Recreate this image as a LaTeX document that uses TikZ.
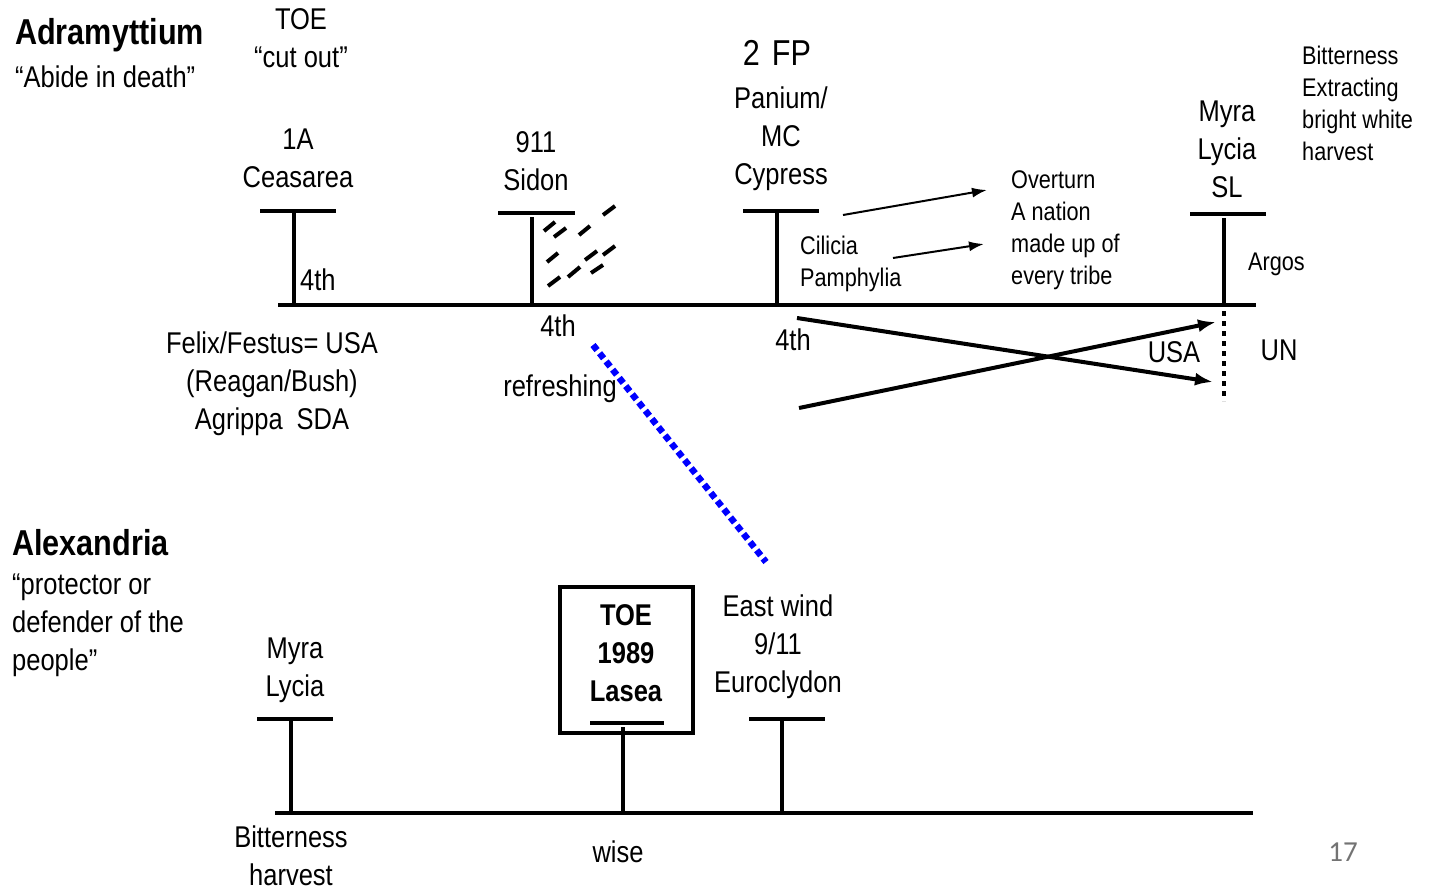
\documentclass[tikz,border=0pt]{standalone}
\usepackage{fontspec}
\setmainfont{Liberation Sans}[FakeStretch=0.85]
\newfontfamily\pagefont{Carlito}
\usetikzlibrary{arrows.meta}
\tikzset{
  big/.style={font={\fontsize{30}{38}\selectfont}, inner sep=0pt, align=center},
  bigl/.style={font={\fontsize{30}{38}\selectfont}, inner sep=0pt, align=left, anchor=west},
  small/.style={font={\fontsize{25.5}{32}\selectfont}, inner sep=0pt, align=left, anchor=west},
  head/.style={font={\bfseries\fontsize{36}{42}\selectfont}, inner sep=0pt, anchor=west},
  tl/.style={line width=4.5pt},
  tick/.style={line width=4pt},
  thinarrow/.style={line width=2pt, -{Latex[length=15pt,width=10pt]}},
  thickarrow/.style={line width=4pt, -{Latex[length=18pt,width=13pt]}},
  slash/.style={line width=4pt},
  bluedots/.style={blue, line width=6.5pt, dash pattern=on 6.5pt off 4pt},
}
\begin{document}
\begin{tikzpicture}[x=1pt,y=-1pt]
\useasboundingbox (0,0) rectangle (1437,889);

% ---------- headings ----------
\node[head] (adr) at (15,35) {Adramyttium};
\node[bigl] (abide) at (15,77) {“Abide in death”};
\node[big] (toe) at (301,38) {TOE\\“cut out”};

% ---------- top timeline ----------
\coordinate (t0) at (278,305);
\coordinate (t1) at (1256,305);
\draw[tl] (t0) -- (t1);

% Ceasarea tick
\coordinate (cb1) at (260,211); \coordinate (cb2) at (336,211);
\coordinate (cv) at (294,211); \coordinate (cvb) at (294,305);
\draw[tick] (cb1) -- (cb2);
\draw[tick] (cv) -- (cvb);
\node[big] (ceas) at (298,158) {1A\\Ceasarea};
\node[bigl] (c4) at (300,280) {4th};

% Sidon tick
\coordinate (sb1) at (498,213); \coordinate (sb2) at (575,213);
\coordinate (sv) at (532,217); \coordinate (svb) at (532,305);
\draw[tick] (sb1) -- (sb2);
\draw[tick] (sv) -- (svb);
\node[big] (sidon) at (536,161) {911\\Sidon};
\node[big] (s4) at (558,326) {4th};
\node[big] (refr) at (560,389) {refreshing};

% dashes near Sidon
\draw[slash] (603,215) -- (615,206);
\draw[slash] (544,231) -- (555,222);
\draw[slash] (554,237) -- (566,228);
\draw[slash] (579,235) -- (590,226);
\draw[slash] (547,262) -- (558,253);
\draw[slash] (585,260) -- (597,251);
\draw[slash] (603,255) -- (615,246);
\draw[slash] (548,286) -- (560,277);
\draw[slash] (568,277) -- (580,267);
\draw[slash] (591,273) -- (603,265);

% Cypress tick
\coordinate (pb1) at (743,211); \coordinate (pb2) at (819,211);
\coordinate (pv) at (777,211); \coordinate (pvb) at (777,305);
\draw[tick] (pb1) -- (pb2);
\draw[tick] (pv) -- (pvb);
\node[font={\fontsize{36}{40}\selectfont}, inner sep=0pt] (fp) at (777,53) {2\hspace{12pt}FP};
\node[big] (pan) at (781,139) {Panium/\\MC\\Cypress};
\node[big] (p4) at (793,340) {4th};
\node[small] (cil) at (800,264) {Cilicia\\Pamphylia};
\node[small] (over) at (1011,230) {Overturn\\A nation\\made up of\\every tribe};

% SL tick
\coordinate (lb1) at (1190,214); \coordinate (lb2) at (1266,214);
\coordinate (lv) at (1224,218); \coordinate (lvb) at (1224,305);
\draw[tick] (lb1) -- (lb2);
\draw[tick] (lv) -- (lvb);
\node[big] (myra1) at (1227,149) {Myra\\Lycia\\SL};
\node[small] (bitt1) at (1302,103) {Bitterness\\Extracting\\bright white\\harvest};
\node[small] (argos) at (1248,264) {Argos};

% dotted vertical below SL
\coordinate (d0) at (1224,311); \coordinate (d1) at (1224,401);
\draw[line width=4.5pt, dash pattern=on 5pt off 5pt] (d0) -- (d1);
\node[big] (usa) at (1174,352) {USA};
\node[big] (un) at (1279,350) {UN};

% arrows
\coordinate (a1s) at (843,215); \coordinate (a1e) at (987,190);
\coordinate (a2s) at (893,258); \coordinate (a2e) at (984,244);
\draw[thinarrow] (a1s) -- (a1e);
\draw[thinarrow] (a2s) -- (a2e);
\coordinate (x1s) at (797,318); \coordinate (x1e) at (1213,382);
\coordinate (x2s) at (799,408); \coordinate (x2e) at (1216,322);
\draw[thickarrow] (x1s) -- (x1e);
\draw[thickarrow] (x2s) -- (x2e);

% Felix block
\node[big] (felix) at (272,384) {Felix/Festus= USA\\(Reagan/Bush)\\Agrippa\hspace{14pt}SDA};

% blue dotted line
\coordinate (b0) at (593,345); \coordinate (b1) at (766,562);
\draw[bluedots] (b0) -- (b1);

% ---------- bottom ----------
\node[head] (alex) at (12,543) {Alexandria};
\node[bigl] (prot) at (12,625) {“protector or\\defender of the\\people”};

\coordinate (u0) at (275,813);
\coordinate (u1) at (1253,813);
\draw[tl] (u0) -- (u1);

% Myra bottom tick
\coordinate (mb1) at (257,719); \coordinate (mb2) at (333,719);
\coordinate (mv) at (291,719); \coordinate (mvb) at (291,813);
\draw[tick] (mb1) -- (mb2);
\draw[tick] (mv) -- (mvb);
\node[big] (myra2) at (295,670) {Myra\\Lycia};
\node[big] (bitt2) at (291,856) {Bitterness\\harvest};

% TOE box
\node[draw, line width=4pt, minimum width=133pt, minimum height=146pt, inner sep=0pt] (box) at (626.5,660) {};
\node[font={\bfseries\fontsize{30}{38}\selectfont}, inner sep=0pt, align=center] (boxt) at (626,653) {TOE\\1989\\Lasea};
\coordinate (xb1) at (590,723); \coordinate (xb2) at (664,723);
\coordinate (xv) at (623,727); \coordinate (xvb) at (623,813);
\draw[tick] (xb1) -- (xb2);
\draw[tick] (xv) -- (xvb);
\node[big] (wise) at (618,852) {wise};

% Euroclydon tick
\coordinate (eb1) at (749,719); \coordinate (eb2) at (825,719);
\coordinate (ev) at (782,719); \coordinate (evb) at (782,813);
\draw[tick] (eb1) -- (eb2);
\draw[tick] (ev) -- (evb);
\node[big] (east) at (778,647) {East wind\\9/11\\Euroclydon};

% page number
\node[font={\pagefont\fontsize{29}{32}\selectfont}, text=black!55, inner sep=0pt] (pg) at (1343,852) {17};
\end{tikzpicture}
\end{document}
